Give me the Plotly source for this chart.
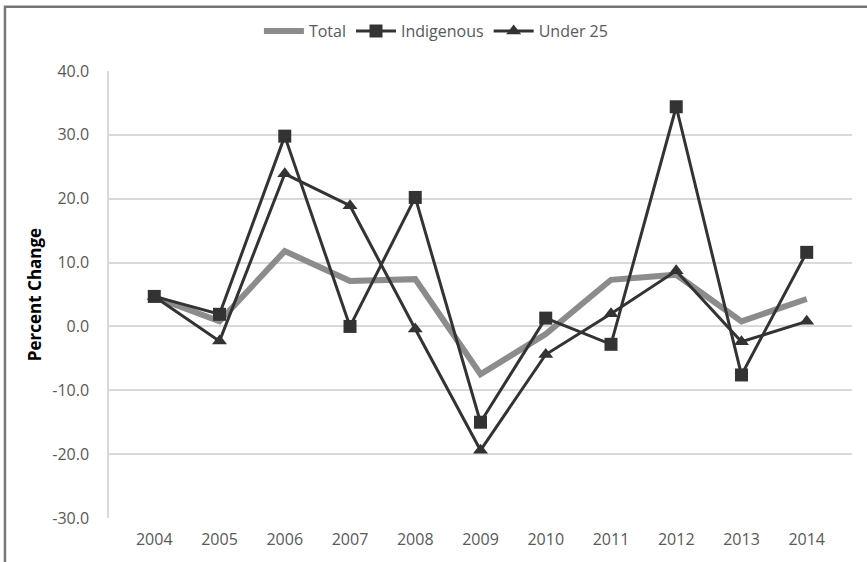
import plotly.graph_objects as go

# Datos (cambio porcentual anual)
anios = ['2004', '2005', '2006', '2007', '2008', '2009', '2010', '2011', '2012', '2013', '2014']
total = [4.6, 0.8, 11.8, 7.1, 7.4, -7.5, -1.2, 7.3, 8.1, 0.8, 4.3]
indigenous = [4.7, 1.9, 29.8, 0.0, 20.2, -15.0, 1.3, -2.8, 34.4, -7.6, 11.6]
under_25 = [4.7, -2.3, 23.9, 18.9, -0.4, -19.4, -4.4, 2.0, 8.7, -2.4, 0.8]

# Marcas del eje Y (con guion normal, como en el original)
y_valores = [-30, -20, -10, 0, 10, 20, 30, 40]
y_etiquetas = ['-30.0', '-20.0', '-10.0', '0.0', '10.0', '20.0', '30.0', '40.0']

oscuro = '#333333'
texto = '#595959'
rejilla = '#d9d9d9'

fig = go.Figure()

fig.add_trace(go.Scatter(
    x=anios, y=total, name='Total', mode='lines',
    line=dict(color='#8c8c8c', width=6)
))
fig.add_trace(go.Scatter(
    x=anios, y=indigenous, name='Indigenous', mode='lines+markers',
    line=dict(color=oscuro, width=3),
    marker=dict(symbol='square', size=13, color=oscuro)
))
fig.add_trace(go.Scatter(
    x=anios, y=under_25, name='Under 25', mode='lines+markers',
    line=dict(color=oscuro, width=3),
    marker=dict(symbol='triangle-up', size=13, color=oscuro)
))

# Marco del gráfico (solo se ven los lados superior e izquierdo)
fig.add_shape(
    type='rect', xref='paper', yref='paper',
    x0=-0.140, x1=1.2, y0=-0.3, y1=1.144,
    line=dict(color='#767676', width=2.5), layer='below'
)

fig.update_layout(
    width=867, height=562,
    margin=dict(l=109, r=15, t=71, b=40),
    paper_bgcolor='white',
    plot_bgcolor='white',
    font=dict(family='Open Sans', size=16, color=texto),
    showlegend=True,
    legend=dict(
        orientation='h',
        x=0.44, xanchor='center',
        y=1.089, yanchor='middle',
        font=dict(size=16, color=texto),
        itemwidth=40,
        traceorder='normal'
    )
)

fig.update_xaxes(
    type='category',
    showgrid=False,
    showline=False,
    ticks='',
    ticklabelstandoff=10,
    tickfont=dict(size=16, color=texto)
)
fig.update_yaxes(
    range=[-30, 40],
    tickvals=y_valores,
    ticktext=y_etiquetas,
    showgrid=True,
    gridcolor=rejilla,
    gridwidth=1.5,
    zeroline=False,
    showline=True,
    linecolor=rejilla,
    linewidth=1.5,
    ticks='',
    ticklabelstandoff=15,
    tickfont=dict(size=16, color=texto),
    title=dict(text='<b>Percent Change</b>', font=dict(size=17, color='black'), standoff=6)
)

# Quitar el margen por defecto del body para que la figura empiece en (0, 0)
fig.write_html(
    'out.html',
    config={'displayModeBar': False},
    post_script="document.body.style.margin='0';"
)
